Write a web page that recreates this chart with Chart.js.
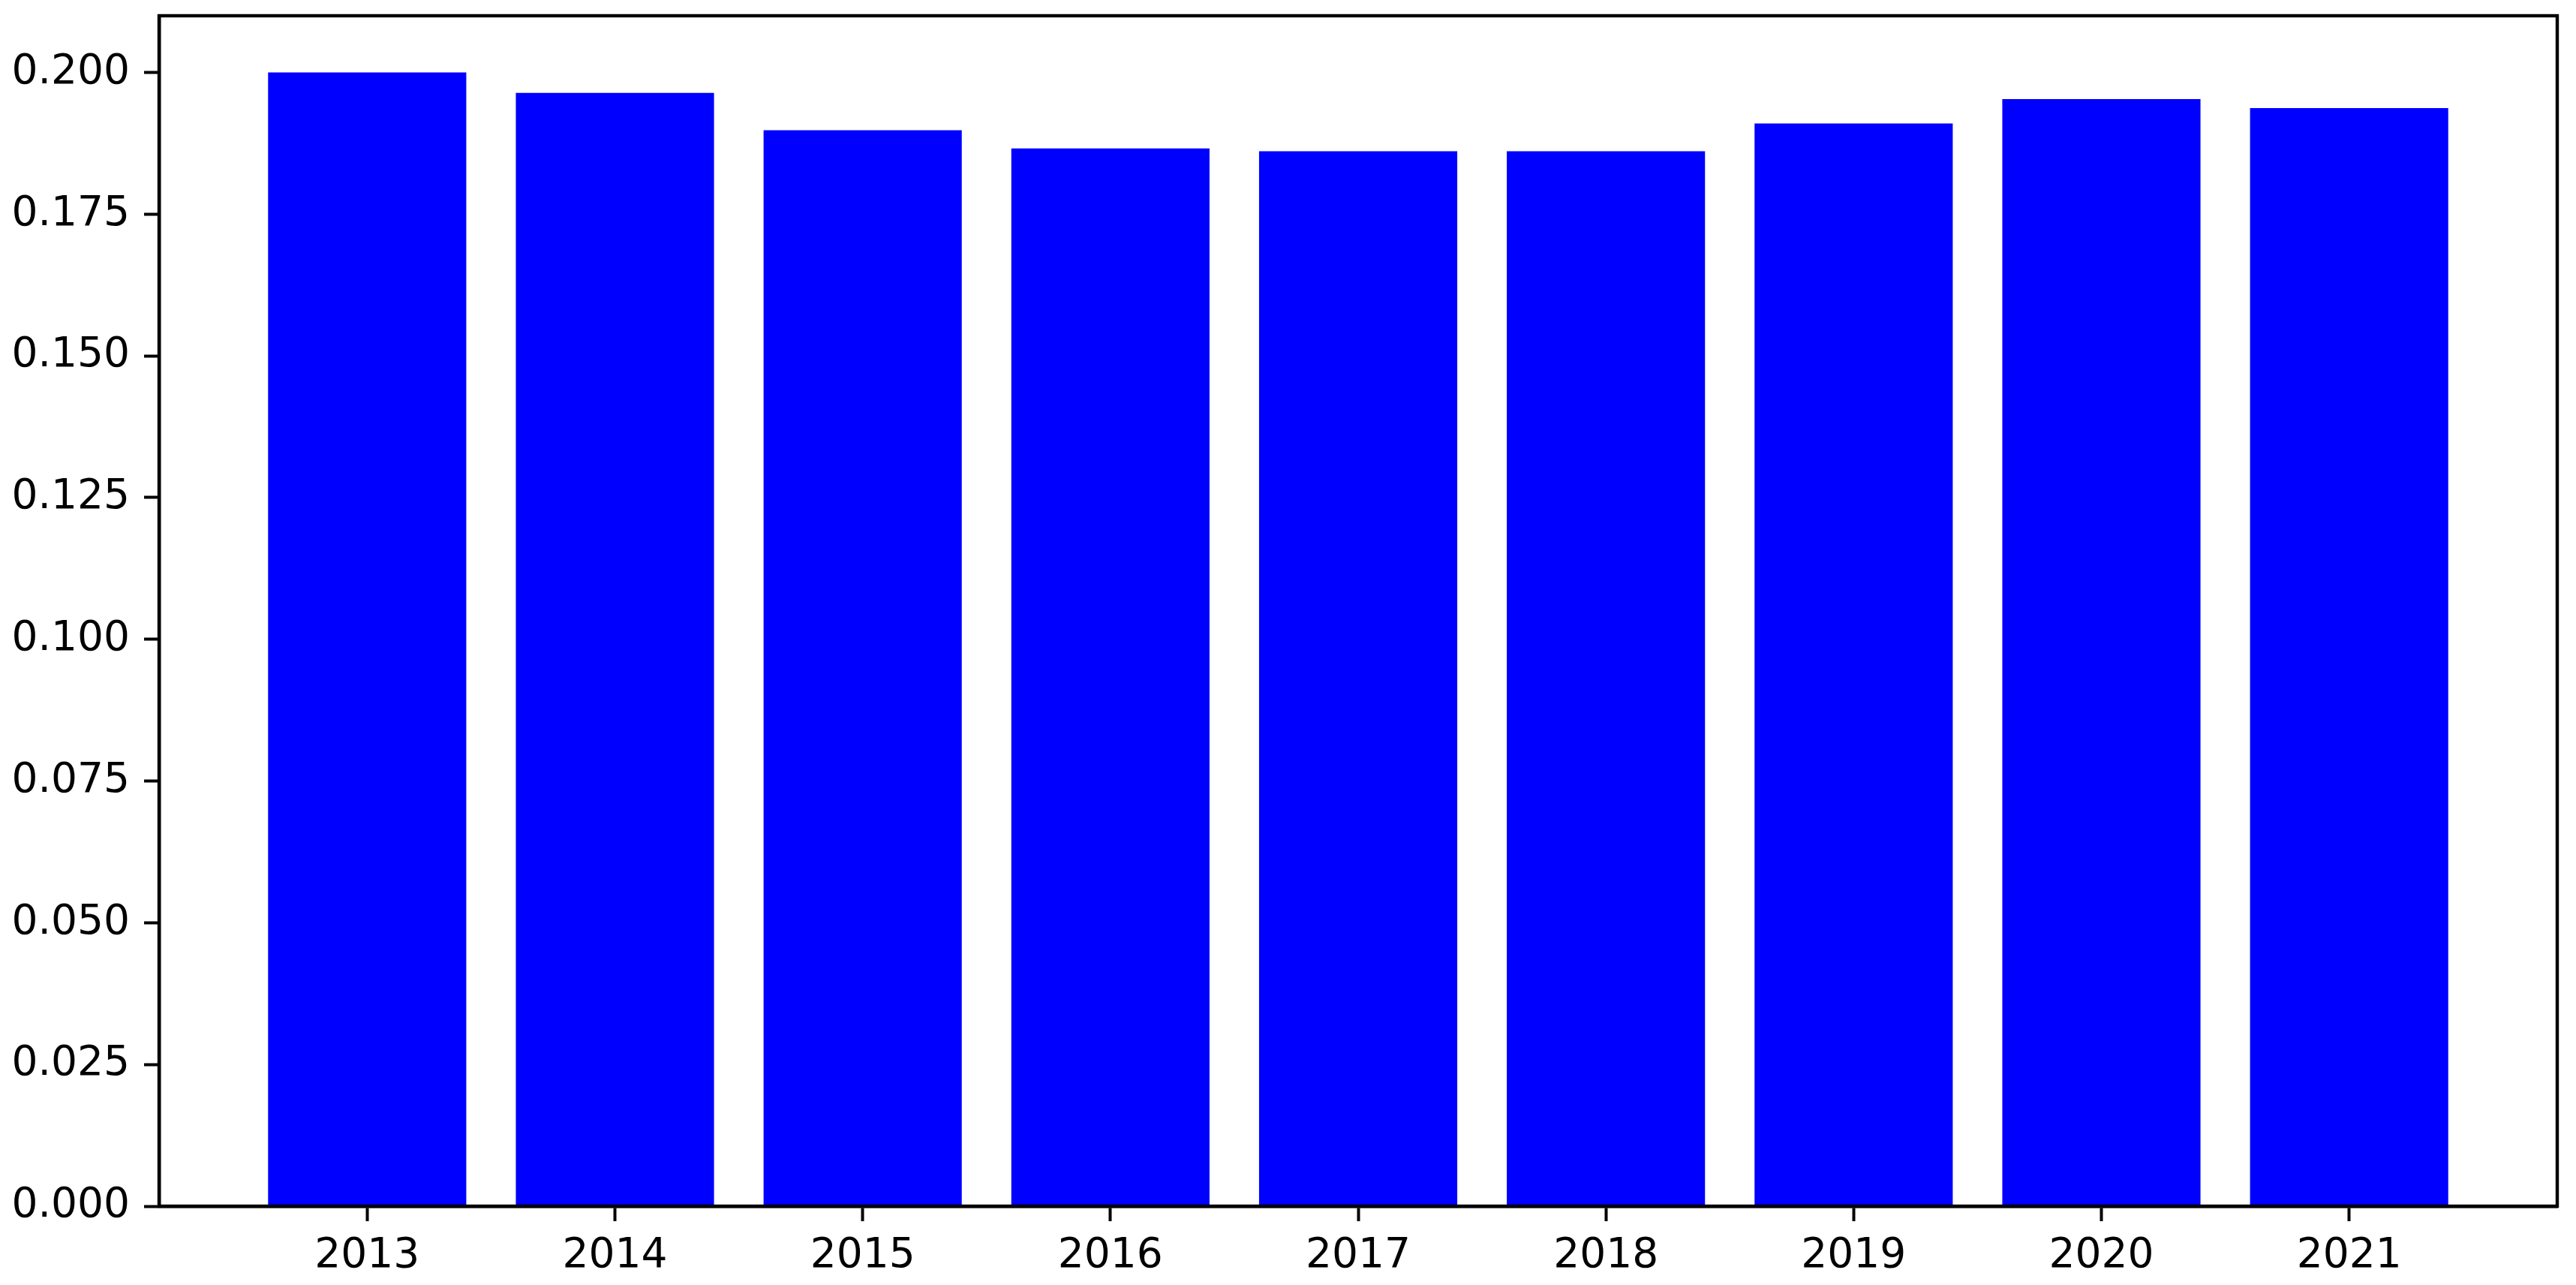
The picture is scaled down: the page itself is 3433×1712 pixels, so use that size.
<!DOCTYPE html>
<html>
<head>
<meta charset="utf-8">
<script src="https://cdn.jsdelivr.net/npm/chart.js@4/dist/chart.umd.min.js"></script>
<style>
    html, body { margin: 0; padding: 0; background: #fff; }
    #wrap { width: 3433px; height: 1712px; }
</style>
</head>
<body>
<div id="wrap"><canvas id="barChart" width="3433" height="1712"></canvas></div>
<script>
const years = [2013, 2014, 2015, 2016, 2017, 2018, 2019, 2020, 2021];
const shares = [0.2000, 0.1964, 0.1898, 0.1866, 0.1861, 0.1861, 0.1910, 0.1953, 0.1937];
const yTicks = [0, 0.025, 0.05, 0.075, 0.1, 0.125, 0.15, 0.175, 0.2];

document.addEventListener('DOMContentLoaded', function() {

    // matplotlib style frame on all four sides
    const frame = {
        id: 'frame',
        afterDatasetsDraw(chart) {
            const { ctx, chartArea: a } = chart;
            ctx.save();
            ctx.strokeStyle = '#000';
            ctx.lineWidth = 4.4;
            ctx.strokeRect(a.left, a.top, a.right - a.left, a.bottom - a.top);
            ctx.restore();
        }
    };

    const ctx = document.getElementById('barChart').getContext('2d');
    new Chart(ctx, {
        type: 'bar',
        data: {
            datasets: [{
                data: years.map((y, i) => ({ x: y, y: shares[i] })),
                backgroundColor: '#0000ff',
                borderWidth: 0,
                barPercentage: 0.8,
                categoryPercentage: 1.0
            }]
        },
        options: {
            responsive: false,
            animation: false,
            devicePixelRatio: 1,
            layout: { padding: { top: 21, right: 25, left: 0, bottom: 0 } },
            plugins: {
                legend: { display: false },
                tooltip: { enabled: false }
            },
            scales: {
                x: {
                    type: 'linear',
                    offset: false,
                    min: years[0] - 0.84,
                    max: years[years.length - 1] + 0.84,
                    afterBuildTicks: (scale) => {
                        scale.ticks = years.map(v => ({ value: v }));
                    },
                    afterFit: (scale) => {
                        scale.height = 105;
                        scale.paddingLeft = 0;
                        scale.paddingRight = 0;
                    },
                    grid: {
                        offset: false,
                        drawOnChartArea: false,
                        drawTicks: true,
                        tickLength: 20,
                        tickWidth: 4,
                        color: '#000'
                    },
                    border: { display: true, color: '#000', width: 4.4 },
                    ticks: {
                        color: '#000',
                        padding: 14,
                        maxRotation: 0,
                        font: { family: 'DejaVu Sans', size: 55 },
                        callback: (v) => String(v)
                    }
                },
                y: {
                    min: 0,
                    max: 0.21,
                    afterBuildTicks: (scale) => {
                        scale.ticks = yTicks.map(v => ({ value: v }));
                    },
                    afterFit: (scale) => {
                        scale.width = 212;
                        scale.paddingTop = 0;
                        scale.paddingBottom = 0;
                    },
                    grid: {
                        drawOnChartArea: false,
                        drawTicks: true,
                        tickLength: 20,
                        tickWidth: 4,
                        color: '#000'
                    },
                    border: { display: true, color: '#000', width: 4.4 },
                    ticks: {
                        color: '#000',
                        padding: 19,
                        font: { family: 'DejaVu Sans', size: 55 },
                        callback: (v) => Number(v).toFixed(3)
                    }
                }
            }
        },
        plugins: [frame]
    });
});
</script>
</body>
</html>
